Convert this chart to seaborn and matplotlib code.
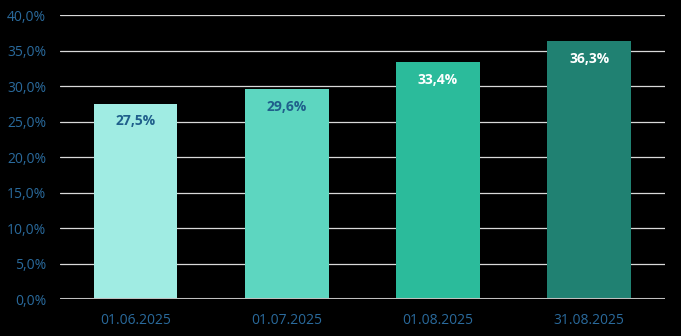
import matplotlib
matplotlib.use("Agg")
import matplotlib.pyplot as plt
import seaborn as sns
import pandas as pd

categories = ["01.06.2025", "01.07.2025", "01.08.2025", "31.08.2025"]
values = [27.5, 29.6, 33.4, 36.3]
bar_colors = ["#A0ECE3", "#5DD6C0", "#2BBB9B", "#208172"]
label_colors = ["#1F5F8B", "#1F5F8B", "#FFFFFF", "#FFFFFF"]
yticks = [0, 5, 10, 15, 20, 25, 30, 35, 40]

sns.set_theme(style="dark")
plt.rcParams["font.family"] = ["Open Sans", "DejaVu Sans"]

df = pd.DataFrame({"cat": categories, "val": values})

fig = plt.figure(figsize=(6.81, 3.36), dpi=100, facecolor="black")
ax = fig.add_axes([0.088, 0.110, 0.888, 0.845])
ax.set_facecolor("black")

sns.barplot(data=df, x="cat", y="val", hue="cat", palette=bar_colors,
            width=0.555, legend=False, ax=ax, zorder=3, saturation=1,
            linewidth=0, edgecolor="none")

ax.set_ylim(0, 40)
ax.set_yticks(yticks)
ax.set_yticklabels([f"{t:.1f}%".replace(".", ",") for t in yticks])
ax.yaxis.grid(True, color="#D9D9D9", linewidth=0.9, zorder=0)
ax.xaxis.grid(False)
ax.axhline(0, color="#BFBFBF", linewidth=2.2, zorder=4)
for s in ax.spines.values():
    s.set_visible(False)
ax.tick_params(axis="y", colors="#2A6A9C", labelsize=10, length=0, pad=10)
ax.tick_params(axis="x", colors="#2A6A9C", labelsize=10, length=0, pad=10)
ax.set_xlabel("")
ax.set_ylabel("")

for i, (v, c) in enumerate(zip(values, label_colors)):
    ax.text(i, v - 1.5, f"{v:.1f}%".replace(".", ","), ha="center", va="top",
            color=c, fontsize=10, fontweight="bold", zorder=5)

fig.savefig("out.png", dpi=100, facecolor="black")
